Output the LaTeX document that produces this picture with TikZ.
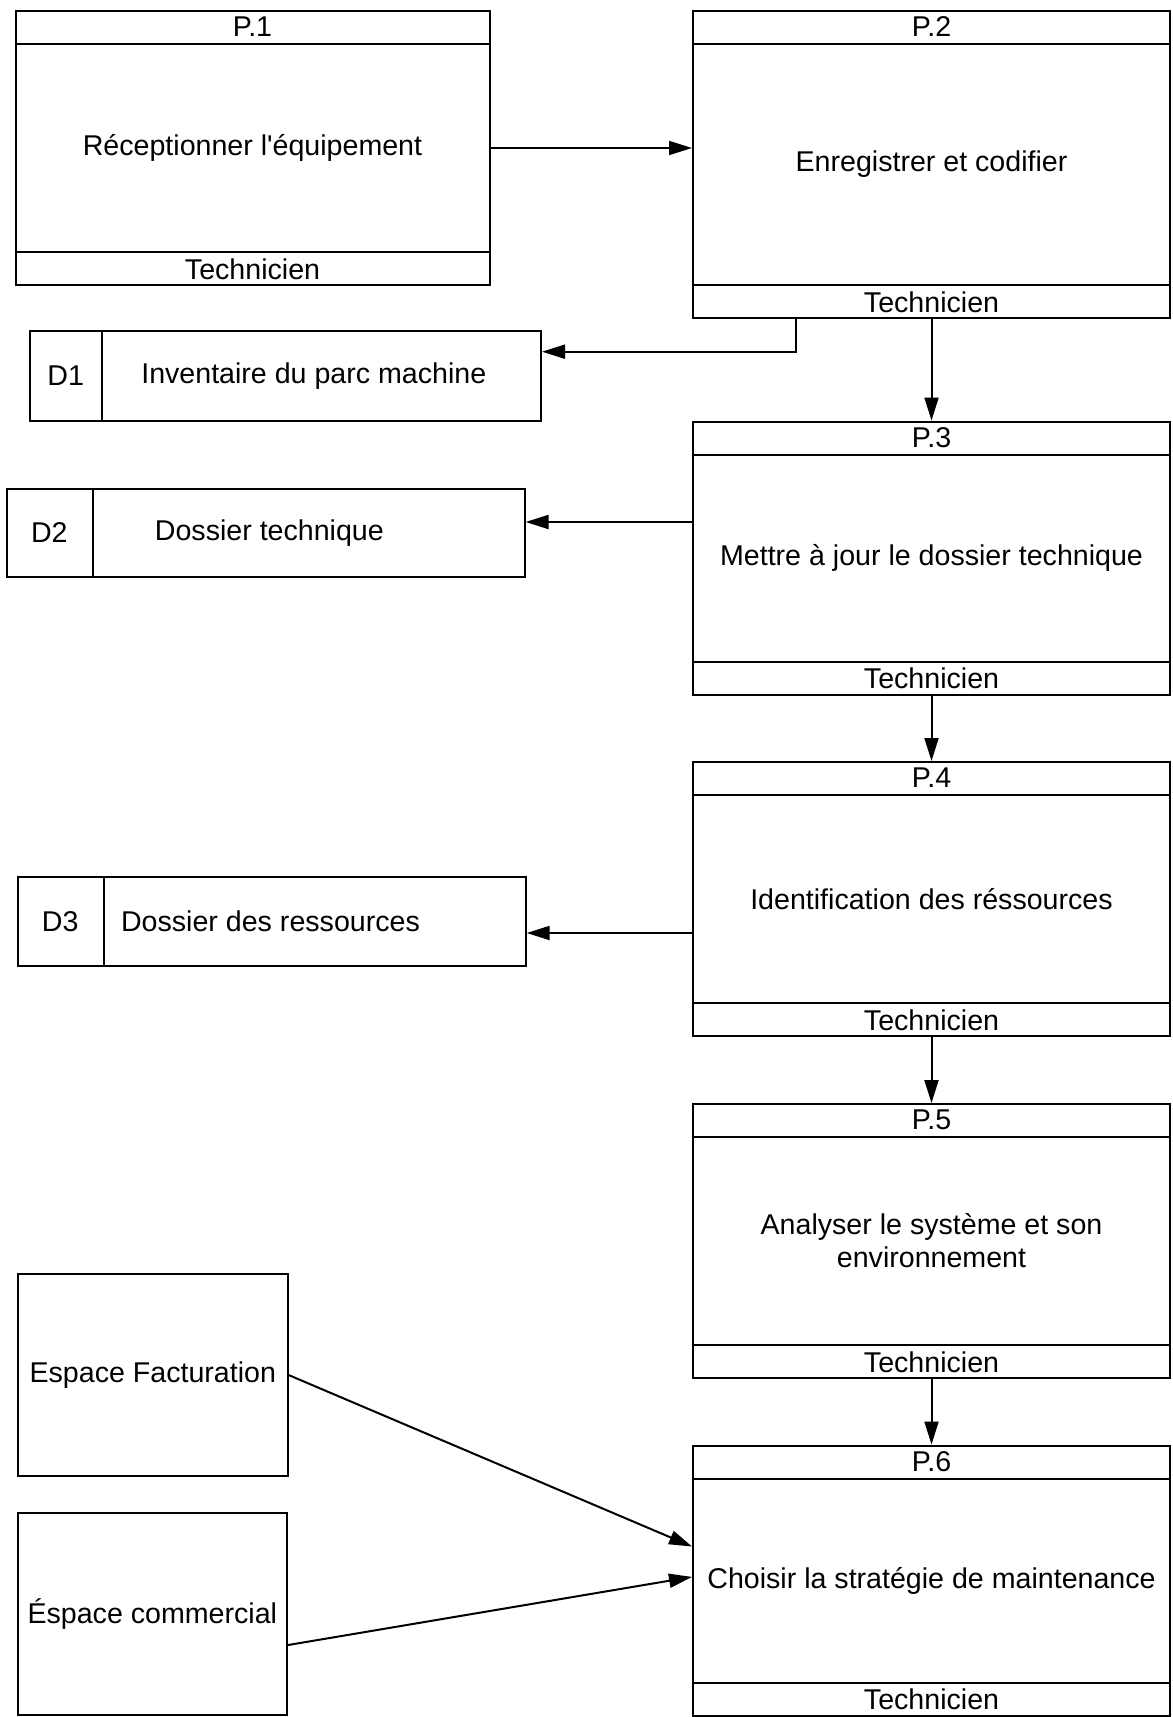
\documentclass[tikz,border=0pt]{standalone}
\usepackage{fontspec}
\setmainfont{Liberation Sans}
\usetikzlibrary{arrows.meta}

\begin{document}
\begin{tikzpicture}[x=0.5pt, y=-0.5pt, line width=1pt,
    >={Triangle[length=11.5pt, width=7pt]},
    every node/.style={font=\fontsize{14.3}{16.5}\selectfont},
    procbox/.style={draw, rectangle, inner sep=2pt, align=center},
    storebox/.style={draw, rectangle, inner sep=0pt},
    plain/.style={inner sep=1pt}]

  \useasboundingbox (0,0) rectangle (1172,1717);

  % ---- process boxes: number on top, actor below -------------------------
  % name / centre x / centre y / width / height / number / task
  \foreach \nm/\cx/\cy/\ww/\hh/\pid/\txt in {%
    p1/252.5/148/237/137/P.1/{R\'eceptionner l\textquotesingle \'equipement},
    p2/931.5/164.5/238.5/153.5/P.2/{Enregistrer et codifier},
    p3/931.5/558/238.5/136.5/P.3/{Mettre \`a jour le dossier technique},
    p4/931.5/899/238.5/137/P.4/{Identification des r\'essources},
    p5/931.5/1241/238.5/137/P.5/{Analyser le syst\`eme et son\\environnement},
    p6/931.5/1580.5/238.5/135/P.6/{Choisir la strat\'egie de maintenance}%
  }{
    \node[procbox, minimum width=\ww pt, minimum height=\hh pt] (\nm) at (\cx,\cy) {\txt};
    \draw ([yshift=-17pt]\nm.north west) -- ([yshift=-17pt]\nm.north east);
    \draw ([yshift=17pt]\nm.south west) -- ([yshift=17pt]\nm.south east);
    \node[plain] (\nm-id) at ([yshift=-8.5pt]\nm.north) {\pid};
    \node[plain] (\nm-who) at ([yshift=8.5pt]\nm.south) {Technicien};
  }

  % ---- data stores --------------------------------------------------------
  \foreach \nm/\cx/\cy/\ww/\hh/\dx/\ix/\sid/\tx/\txt in {%
    d1/285.3/375.7/255.7/44.9/101.9/65.7/D1/313.8/{Inventaire du parc machine},
    d2/265.6/532.9/259/44.35/93/49.3/D2/269.4/{Dossier technique},
    d3/271.6/921.6/254.1/44.35/104/60.2/D3/270.5/{Dossier des ressources}%
  }{
    \node[storebox, minimum width=\ww pt, minimum height=\hh pt] (\nm) at (\cx,\cy) {};
    \coordinate (\nm-cut) at (\dx,\cy);
    \draw (\nm-cut |- \nm.north) -- (\nm-cut |- \nm.south);
    \node[plain] (\nm-id) at (\ix,\cy) {\sid};
    \node[plain] (\nm-txt) at (\tx,\cy) {\txt};
  }

  % ---- external entities ----------------------------------------------------
  \node[procbox, minimum width=135pt, minimum height=101.3pt] (fact) at (152.8,1375.1) {Espace Facturation};
  \node[procbox, minimum width=134.8pt, minimum height=101.2pt] (comm) at (152.3,1613.8) {\'Espace commercial};

  % ---- flows ----------------------------------------------------------------
  \draw[->] (p1.east) -- (p1.east -| p2.west);
  \draw[->] ([xshift=-68pt]p2.south) |- ([yshift=12pt]d1.east);
  \draw[->] (p2.south) -- (p3.north);
  \coordinate (a3) at ([yshift=18pt]p3.west);
  \draw[->] (a3) -- (a3 -| d2.east);
  \draw[->] (p3.south) -- (p4.north);
  \coordinate (a4) at ([yshift=-17pt]p4.west);
  \draw[->] (a4) -- (a4 -| d3.east);
  \draw[->] (p4.south) -- (p5.north);
  \draw[->] (p5.south) -- (p6.north);
  \draw[->] (fact.east) -- ([yshift=17pt]p6.west);
  \draw[->] ([yshift=-15.6pt]comm.east) -- ([yshift=1.8pt]p6.west);
\end{tikzpicture}
\end{document}
